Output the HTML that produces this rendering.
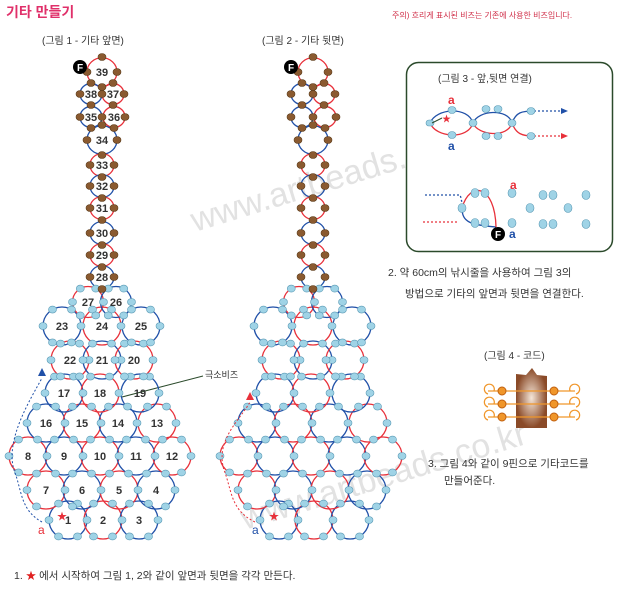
<!DOCTYPE html>
<html><head><meta charset="utf-8"><style>
body{margin:0;background:#fff;width:627px;height:600px;overflow:hidden;font-family:"Liberation Sans","Noto Sans CJK KR",sans-serif}
svg{position:absolute;left:0;top:0}
</style></head><body>
<svg id="s" width="627" height="600" viewBox="0 0 627 600" font-family="Liberation Sans, Noto Sans CJK KR, sans-serif">
<g font-size="34" fill="#e2e2e2" font-family="Liberation Sans, sans-serif">
<text x="195" y="232" transform="rotate(-17 195 232)">www.artbeads.co.kr</text>
<text x="245" y="530" transform="rotate(-17 245 530)">www.artbeads.co.kr</text>
</g>
<text x="6" y="17" font-size="14" fill="#e0306a" font-weight="bold">기타 만들기</text>
<text x="392" y="18" font-size="8" fill="#d0304a">주의) 흐리게 표시된 비즈는 기존에 사용한 비즈입니다.</text>
<text x="42" y="44" font-size="10" fill="#333">(그림 1 - 기타 앞면)</text>
<text x="262" y="44" font-size="10" fill="#333">(그림 2 - 기타 뒷면)</text>
<rect x="406.5" y="62.5" width="206" height="189" rx="12" fill="#fff" stroke="#2b4a2b" stroke-width="1.5"/>
<text x="438" y="82" font-size="10" fill="#333">(그림 3 - 앞,뒷면 연결)</text>
<text x="388" y="276" font-size="10.5" fill="#333">2. 약 60cm의 낚시줄을 사용하여 그림 3의</text>
<text x="405" y="297" font-size="10.5" fill="#333">방법으로 기타의 앞면과 뒷면을 연결한다.</text>
<text x="484" y="359" font-size="10" fill="#333">(그림 4 - 코드)</text>
<text x="428" y="467" font-size="10.5" fill="#333">3. 그림 4와 같이 9핀으로 기타코드를</text>
<text x="444" y="484" font-size="10.5" fill="#333">만들어준다.</text>
<text x="14" y="579" font-size="10.5" fill="#333">1. <tspan fill="#e02020">★</tspan> 에서 시작하여 그림 1, 2와 같이 앞면과 뒷면을 각각 만든다.</text>
<text x="205" y="378" font-size="9" fill="#333">극소비즈</text>
<line x1="203" y1="376" x2="122" y2="397" stroke="#2b4a2b" stroke-width="1"/>
<g id="g"></g>
</svg>
<script>
const g=document.getElementById('g');const NS='http://www.w3.org/2000/svg';
function el(t,a,txt){const e=document.createElementNS(NS,t);for(const k in a)e.setAttribute(k,a[k]);if(txt!==undefined)e.textContent=txt;g.appendChild(e);return e;}
const R='#e8303a',B='#2050a8',LB='#9fd3e6',BR='#8a5a30';
const body=[[1,68,520],[2,103,520],[3,139,520],[7,46,490],[6,82,490],[5,119,490],[4,156,490],
[8,28,456],[9,64,456],[10,100,456],[11,136,456],[12,172,456],[16,46,423],[15,82,423],[14,118,423],[13,157,423],
[17,64,393],[18,100,393],[19,140,393],[22,70,360],[21,102,360],[20,134,360],[23,62,326],[24,102,326],[25,141,326],[27,88,302],[26,116,302]];
const neck=[[39,102,72,15],[38,91,94,11],[37,113,94,11],[35,91,117,11],[36,114,117,11],[34,102,140,15],[33,102,165,12],[32,102,186,12],[31,102,208,12],[30,102,233,12],[29,102,255,12],[28,102,277,12]];
function draw(dx,num){
 const beads=[];
 body.forEach((c,i)=>{const r=(c[0]>=26)?15.5:19;el('circle',{cx:c[1]+dx,cy:c[2],r:r,fill:'none',stroke:i%2?R:B,'stroke-width':1.3});
  for(let k=0;k<6;k++){const a=k*Math.PI/3;beads.push([c[1]+dx+r*Math.cos(a),c[2]+r*Math.sin(a),LB]);}});
 neck.forEach((c,i)=>{el('ellipse',{cx:c[1]+dx,cy:c[2],rx:c[3],ry:c[3]*0.95,fill:'none',stroke:i%2?B:R,'stroke-width':1.3});
  [[0,-1],[0,1],[-1,0],[1,0]].forEach(v=>beads.push([c[1]+dx+v[0]*c[3],c[2]+v[1]*c[3],BR]));});
 const seen=[];beads.forEach(b=>{if(seen.some(s=>Math.hypot(s[0]-b[0],s[1]-b[1])<5))return;seen.push(b);
  el('ellipse',{cx:b[0],cy:b[1],rx:4,ry:3.5,fill:b[2],stroke:b[2]==LB?'#5a9ab5':'#5a3a18','stroke-width':0.6});});
 if(num){body.concat(neck).forEach(c=>el('text',{x:c[1]+dx,y:c[2]+4,'font-size':11,'font-weight':'bold','text-anchor':'middle',fill:'#333'},c[0]));}
 el('circle',{cx:80+dx,cy:67,r:7,fill:'#000'});el('text',{x:80+dx,y:71,'font-size':10,'font-weight':'bold','text-anchor':'middle',fill:'#fff'},'F');
}
draw(0,true);draw(211,false);
el('path',{d:'M42,522 C20,510 22,490 14,470 C5,440 30,400 42,378',fill:'none',stroke:B,'stroke-width':1,'stroke-dasharray':'2,2'});
el('path',{d:'M38,376 l4,-8 l4,8z',fill:B});
el('text',{x:38,y:534,'font-size':12,fill:R},'a');el('text',{x:57,y:520,'font-size':10,fill:R},'★');
el('path',{d:'M255,522 C230,510 232,490 224,470 C215,440 240,420 250,402',fill:'none',stroke:R,'stroke-width':1,'stroke-dasharray':'2,2'});
el('path',{d:'M246,400 l4,-8 l4,8z',fill:R});
el('text',{x:252,y:534,'font-size':12,fill:B},'a');el('text',{x:269,y:520,'font-size':10,fill:R},'★');
function pth(d,c,dash){el('path',{d:d,fill:'none',stroke:c,'stroke-width':1.3,'stroke-dasharray':dash||''});}
// figure 3 top
pth('M430,123 C436,108 468,106 473,123 C478,110 508,108 512,123 C516,112 522,111 534,111',B);
pth('M430,123 C436,138 468,140 473,123 C478,136 508,138 512,123 C516,134 522,136 534,136',R);
pth('M534,111 L562,111',B,'2,2');pth('M534,136 L562,136',R,'2,2');
el('path',{d:'M561,108 l7,3 l-7,3z',fill:B});el('path',{d:'M561,133 l7,3 l-7,3z',fill:R});
[[452,110],[452,135],[486,109],[498,109],[486,136],[498,136],[473,123],[512,123],[531,111],[531,136]].forEach(b=>el('ellipse',{cx:b[0],cy:b[1],rx:4,ry:3.5,fill:LB,stroke:'#5a9ab5','stroke-width':0.6}));
el('rect',{x:426,y:120,width:8,height:6,rx:3,fill:LB,stroke:'#5a9ab5','stroke-width':0.6});
el('line',{x1:432,y1:123,x2:442,y2:118,stroke:'#2b4a2b'});
el('text',{x:442,y:122,'font-size':9,fill:R},'★');
el('text',{x:448,y:104,'font-size':12,'font-weight':'bold',fill:R},'a');el('text',{x:448,y:150,'font-size':12,'font-weight':'bold',fill:B},'a');
// figure 3 bottom
pth('M425,195 L460,195 C462,200 462,205 462,208',B,'2,2');pth('M423,222 L458,222',R,'2,2');
pth('M462,208 C462,222 470,225 496,227',B);pth('M462,208 C470,180 495,185 496,227',R);
[[462,208],[475,193],[485,193],[475,223],[485,223],[512,193],[512,223],[530,208],[543,195],[553,195],[543,224],[553,224],[568,208],[586,195],[586,224]].forEach(b=>el('ellipse',{cx:b[0],cy:b[1],rx:4,ry:4.5,fill:LB,stroke:'#5a9ab5','stroke-width':0.6}));
el('circle',{cx:498,cy:234,r:7,fill:'#000'});el('text',{x:498,y:238,'font-size':10,'font-weight':'bold','text-anchor':'middle',fill:'#fff'},'F');
el('text',{x:510,y:189,'font-size':12,'font-weight':'bold',fill:R},'a');el('text',{x:509,y:238,'font-size':12,'font-weight':'bold',fill:B},'a');
// figure 4
const gr=document.createElementNS(NS,'radialGradient');gr.id='br';gr.innerHTML='<stop offset="0" stop-color="#f5e6d8"/><stop offset="1" stop-color="#8a4a28"/>';g.appendChild(gr);
el('path',{d:'M516,374 L526,375 L532,368 L537,375 L547,376 L547,428 L516,428z',fill:'url(#br)'});
[391,404,417].forEach(y=>{el('line',{x1:488,y1:y,x2:575,y2:y,stroke:'#f0962a','stroke-width':1.3});
 el('circle',{cx:502,cy:y,r:4,fill:'#f0962a',stroke:'#c06010'});el('circle',{cx:554,cy:y,r:4,fill:'#f0962a',stroke:'#c06010'});
 el('path',{d:`M494,${y} a5,5 0 1 0 -6,3`,fill:'none',stroke:'#f0962a','stroke-width':1.2});
 el('path',{d:`M570,${y} a5,5 0 1 1 6,3`,fill:'none',stroke:'#f0962a','stroke-width':1.2});});
</script>
</body></html>
